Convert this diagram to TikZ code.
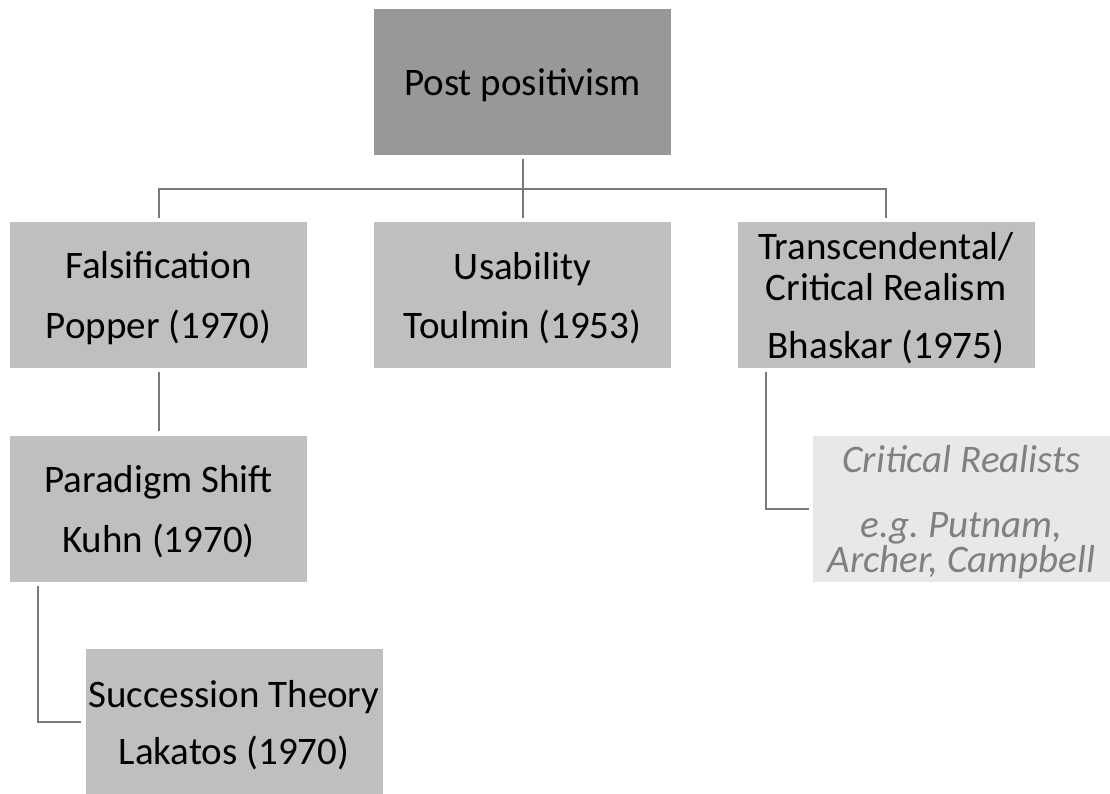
\documentclass[tikz,border=0pt]{standalone}
\usepackage{fontspec}
\setmainfont{Carlito}
\frenchspacing
\definecolor{rootfill}{HTML}{989898}
\definecolor{boxfill}{HTML}{BFBFBF}
\definecolor{palefill}{HTML}{E8E8E8}
\definecolor{linkgrey}{HTML}{7A7A7A}
\definecolor{paletext}{HTML}{808080}
\begin{document}
\begin{tikzpicture}[x=1pt,y=-1pt,
  box/.style={rectangle, fill=boxfill, minimum width=297pt, minimum height=146pt,
    inner sep=0pt, align=center, text depth=0pt, text=black,
    font=\fontsize{39}{41}\selectfont},
  rootbox/.style={box, fill=rootfill},
  palebox/.style={box, fill=palefill, text=paletext,
    font=\fontsize{39}{30}\selectfont\itshape},
  link/.style={draw=linkgrey, line width=2pt, shorten <=4pt, shorten >=4pt}]
  \useasboundingbox (0,0) rectangle (1110,793);

  % boxes
  \node[rootbox] (root) at (522.5,82) {Post positivism};
  \node[box] (fal)   at (158.5,295) {Falsification\\[19pt]Popper (1970)};
  \node[box] (use)   at (522.5,295) {Usability\\[18pt]Toulmin (1953)};
  \node[box] (trans) at (886,295)   {Transcendental/\\Critical Realism\\[17pt]Bhaskar (1975)};
  \node[box] (par)   at (158.5,508.5) {Paradigm Shift\\[19pt]Kuhn (1970)};
  \node[box] (suc)   at (234,722) {Succession Theory\\[16pt]Lakatos (1970)};
  \node[palebox] (crit) at (961.5,509) {Critical Realists\\[35pt]e.g. Putnam,\\Archer, Campbell};

  % connectors
  \draw[link] (root.south) -- (use.north);
  \draw[link] (fal.north) -- ++(0,-33) -| (trans.north);
  \draw[link] (fal.south) -- (par.north);
  \draw[link] ([xshift=28pt]par.south west) |- (suc.west);
  \draw[link] ([xshift=29pt]trans.south west) |- (crit.west);
\end{tikzpicture}
\end{document}
